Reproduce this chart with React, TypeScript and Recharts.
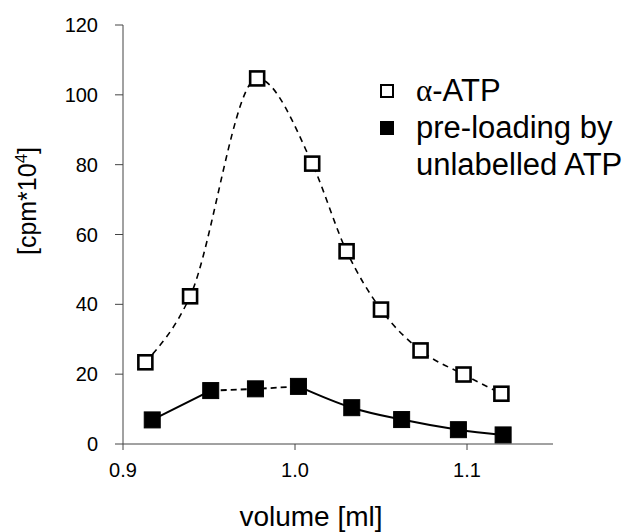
import React from 'react';
import { LineChart, Line, XAxis, YAxis } from 'recharts';

const volumeOpen = [0.913, 0.939, 0.978, 1.010, 1.030, 1.050, 1.073, 1.098, 1.120];
const cpmOpen = [23.4, 42.3, 104.7, 80.3, 55.2, 38.5, 26.8, 19.9, 14.4];
const volumeFilled = [0.917, 0.951, 0.977, 1.002, 1.033, 1.062, 1.095, 1.121];
const cpmFilled = [6.9, 15.3, 15.8, 16.5, 10.4, 7.0, 4.1, 2.6];
const xTicks = [0.9, 1.0, 1.1];
const yTicks = [0, 20, 40, 60, 80, 100, 120];
const legendOpenLabel = '-ATP';
const legendFilledLines = ['pre-loading by', 'unlabelled ATP'];

const openData = volumeOpen.map((x, i) => ({ x, y: cpmOpen[i] }));
const filledData = volumeFilled.map((x, i) => ({ x, y: cpmFilled[i] }));
const filledSolidA = filledData.slice(0, 2);
const filledDashed = filledData.slice(1, 4);
const filledSolidB = filledData.slice(3);

const FONT = '"Liberation Sans", Arial, sans-serif';

const OpenSquare = (props: any) => {
  const { cx, cy, index } = props;
  if (cx == null || cy == null) return <g key={`o${index}`} />;
  return <rect key={`o${index}`} x={cx - 7} y={cy - 7} width={14} height={14} fill="#fff" stroke="#000" strokeWidth={2.6} />;
};
const FilledSquare = (props: any) => {
  const { cx, cy, index } = props;
  if (cx == null || cy == null) return <g key={`f${index}`} />;
  return <rect key={`f${index}`} x={cx - 8} y={cy - 8} width={16} height={16} fill="#000" stroke="#000" strokeWidth={1} />;
};

const LegendBox = () => (
  <div style={{ position: 'absolute', left: 380, top: 72, fontFamily: FONT, fontSize: 31, color: '#000', lineHeight: '37px' }}>
    <div style={{ display: 'flex', alignItems: 'center' }}>
      <span style={{ display: 'inline-block', width: 10, height: 10, border: '2.5px solid #000', background: '#fff', marginRight: 22 }} />
      <span><span style={{ fontFamily: '"Liberation Serif", serif' }}>α</span>{legendOpenLabel}</span>
    </div>
    <div style={{ display: 'flex', alignItems: 'flex-start' }}>
      <span style={{ display: 'inline-block', width: 14, height: 14, background: '#000', marginRight: 22, marginTop: 12 }} />
      <span>{legendFilledLines[0]}<br />{legendFilledLines[1]}</span>
    </div>
  </div>
);

export default function App() {
  return (
    <div style={{ position: 'absolute', left: 0, top: 0, width: 628, height: 532, background: '#fff' }}>
      <LineChart width={628} height={532} margin={{ top: 25, right: 75, bottom: 0, left: 0 }}>
        <XAxis
          type="number"
          dataKey="x"
          domain={[0.9, 1.15]}
          ticks={xTicks}
          allowDataOverflow
          tickFormatter={(v: number) => v.toFixed(1)}
          height={88}
          stroke="#444"
          tickSize={6}
          tickMargin={13}
          tick={{ fontSize: 20, fill: '#000', fontFamily: FONT }}
          label={{
            content: () => (
              <text x={311} y={526} textAnchor="middle" fontSize={28} fontFamily={FONT} fill="#000">volume [ml]</text>
            ),
          }}
        />
        <YAxis
          type="number"
          domain={[0, 120]}
          ticks={yTicks}
          width={123}
          stroke="#444"
          tickSize={8}
          tickMargin={17}
          tick={{ fontSize: 20, fill: '#000', fontFamily: FONT }}
          label={{
            content: () => (
              <text transform="translate(36,201) rotate(-90)" textAnchor="middle" fontSize={25} fontFamily={FONT} fill="#000">
                [cpm*10<tspan dy={-9} fontSize={17}>4</tspan><tspan dy={9}>]</tspan>
              </text>
            ),
          }}
        />
        <Line data={openData} dataKey="y" type="monotone" stroke="#000" strokeWidth={1.6} strokeDasharray="6 5" dot={OpenSquare} activeDot={false} isAnimationActive={false} />
        <Line data={filledSolidA} dataKey="y" type="monotone" stroke="#000" strokeWidth={2} dot={false} activeDot={false} isAnimationActive={false} />
        <Line data={filledDashed} dataKey="y" type="monotone" stroke="#000" strokeWidth={1.8} strokeDasharray="6 4" dot={false} activeDot={false} isAnimationActive={false} />
        <Line data={filledSolidB} dataKey="y" type="monotone" stroke="#000" strokeWidth={2} dot={false} activeDot={false} isAnimationActive={false} />
        <Line data={filledData} dataKey="y" stroke="none" dot={FilledSquare} activeDot={false} isAnimationActive={false} />
      </LineChart>
      <LegendBox />
    </div>
  );
}
